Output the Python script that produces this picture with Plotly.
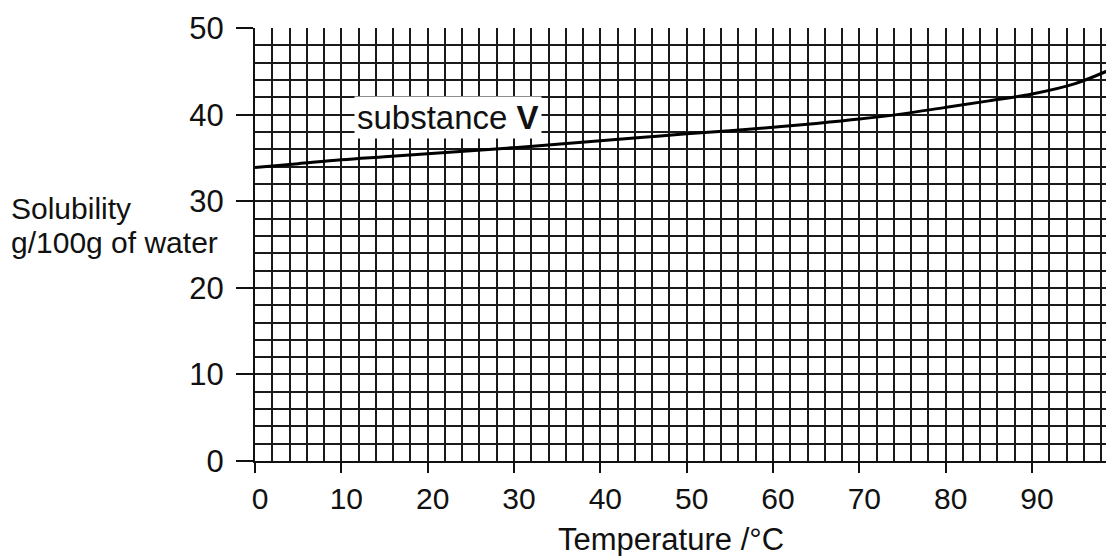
import plotly.graph_objects as go

# Data
temperature = [0, 5, 10, 15, 20, 25, 30, 35, 40, 45, 50, 55, 60, 65, 70, 75, 80, 85, 90, 95, 99.5]
solubility = [33.9, 34.35, 34.8, 35.15, 35.5, 35.85, 36.2, 36.6, 37.0, 37.4, 37.8, 38.15, 38.55, 39.0, 39.5, 40.1, 40.85, 41.6, 42.4, 43.6, 45.4]

x_ticks = [0, 10, 20, 30, 40, 50, 60, 70, 80, 90]
y_ticks = [0, 10, 20, 30, 40, 50]

FONT = "Liberation Sans, Arial, sans-serif"

fig = go.Figure()
fig.add_trace(go.Scatter(
    x=temperature, y=solubility, mode="lines",
    line=dict(color="black", width=3, shape="spline", smoothing=1.0),
    hoverinfo="skip", showlegend=False,
))

fig.update_layout(
    width=1106, height=548,
    margin=dict(l=247, r=0, t=20, b=95),
    paper_bgcolor="white", plot_bgcolor="white",
    font=dict(family=FONT, color="#111", size=30),
    xaxis=dict(
        range=[0, 99.5], tickvals=x_ticks, ticktext=[str(v) for v in x_ticks],
        showgrid=True, gridcolor="#1a1a1a", gridwidth=1.7,
        minor=dict(dtick=2, tick0=0, showgrid=True, gridcolor="#1a1a1a", gridwidth=1.7, ticks=""),
        showline=True, linecolor="#111", linewidth=2,
        ticks="outside", ticklen=10, tickwidth=2, tickcolor="#111",
        tickfont=dict(size=30), ticklabelstandoff=0, ticklabelshift=5,
        zeroline=False, automargin=False,
    ),
    yaxis=dict(
        range=[0, 50.02], tickvals=y_ticks, ticktext=[str(v) for v in y_ticks],
        showgrid=True, gridcolor="#1a1a1a", gridwidth=1.7,
        minor=dict(dtick=2, tick0=0, showgrid=True, gridcolor="#1a1a1a", gridwidth=1.7, ticks=""),
        showline=True, linecolor="#111", linewidth=2,
        ticks="outside", ticklen=17, tickwidth=2, tickcolor="#111",
        tickfont=dict(size=31), ticklabelstandoff=6,
        zeroline=False, automargin=False,
    ),
    annotations=[
        dict(
            x=22.4, y=39.7, xref="x", yref="y",
            text="substance <b>V</b>", showarrow=False,
            font=dict(size=33, family=FONT, color="#111"),
            bgcolor="white", borderpad=2,
        ),
        dict(
            x=-0.2864, y=0.582, xref="paper", yref="paper",
            xanchor="left", yanchor="middle", align="left",
            text="Solubility", showarrow=False,
            font=dict(size=30, family=FONT, color="#111"),
        ),
        dict(
            x=-0.2864, y=0.5035, xref="paper", yref="paper",
            xanchor="left", yanchor="middle", align="left",
            text="g/100g of water", showarrow=False,
            font=dict(size=30, family=FONT, color="#111"),
        ),
        dict(
            x=0.484, y=-0.1824, xref="paper", yref="paper",
            xanchor="center", yanchor="middle",
            text="Temperature /°C", showarrow=False,
            font=dict(size=31, family=FONT, color="#111"),
        ),
    ],
)

fig.write_html("out.html")
